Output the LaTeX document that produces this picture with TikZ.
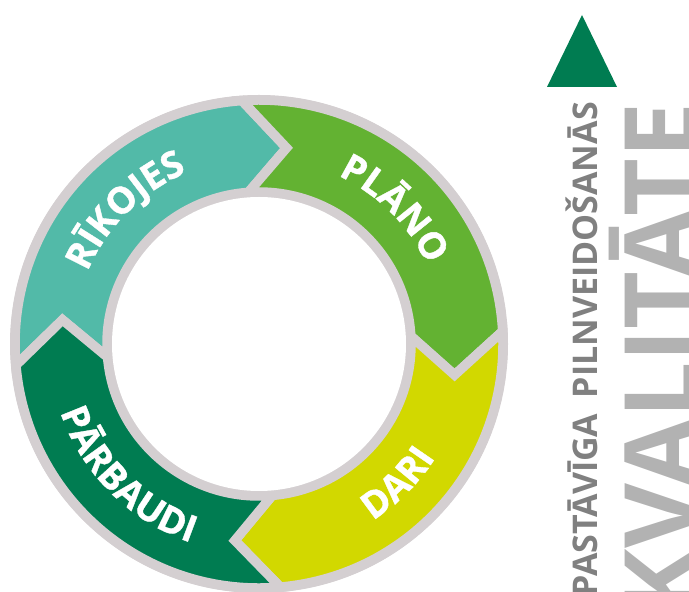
\documentclass[tikz,border=0pt]{standalone}
\usepackage{fontspec}
\setmainfont{Open Sans}
\usetikzlibrary{decorations.text}
\definecolor{ringgray}{RGB}{212,207,209}
\definecolor{cteal}{RGB}{82,186,168}
\definecolor{cgreen}{RGB}{99,178,50}
\definecolor{cyellow}{RGB}{210,216,0}
\definecolor{cdark}{RGB}{0,124,81}
\definecolor{tgray}{RGB}{128,128,128}
\definecolor{tlight}{RGB}{178,178,178}
\def\Ro{244}
\def\Ri{152}
\def\Rm{198}
\def\dd{12}
\newcommand\ringseg[3]{%
  \filldraw[fill=#1, draw=ringgray, line width=9.5pt, line join=miter]
    (#2:\Ro) arc[start angle=#2, end angle=#3, radius=\Ro]
    -- ({#3-\dd}:\Rm) -- (#3:\Ri)
    arc[start angle=#3, end angle=#2, radius=\Ri]
    -- ({#2-\dd}:\Rm) -- cycle;}
\newcommand\lblfont{\fontsize{37}{37}\selectfont\bfseries\addfontfeatures{FakeBold=1}}
\tikzset{
  lbl/.style={decorate, decoration={text along path, text align=center,
     text color=white, text={|\lblfont|#1}}},
}
\begin{document}
\begin{tikzpicture}[x=1pt,y=1pt]
\useasboundingbox (0,0) rectangle (689,592);
\clip (0,0) rectangle (689,592);
\begin{scope}[shift={(259,248)}]
  \fill[ringgray] (0,0) circle[radius=249];
  \begin{scope}
    \clip (0,0) circle[radius=249];
    \ringseg{cteal}{185}{94}
    \ringseg{cgreen}{94}{3}
    \ringseg{cyellow}{3}{-85}
    \ringseg{cdark}{-85}{-175}
  \end{scope}
  \fill[ringgray] (0,0) circle[radius=152];
  \fill[white] (0,0) circle[radius=147];
  \path[lbl=RĪKOJES] (175:186) arc[start angle=175, end angle=95, radius=186];
  \path[lbl=PLĀNO] (85:186) arc[start angle=85, end angle=5, radius=186];
  \path[lbl=DARI] (-85:210) arc[start angle=-85, end angle=-5, radius=210];
  \path[lbl=PĀRBAUDI] (185:210) arc[start angle=185, end angle=265, radius=210];
\end{scope}
\fill[cdark] (547,505) -- (617,505) -- (582,577) -- cycle;
\node[rotate=90, anchor=base east, text=tgray, inner sep=0,
  font=\fontsize{34}{34}\selectfont\bfseries] (sub) at (597,490)
  {PASTĀVĪGA\hspace{0.45em}PILNVEIDOŠANĀS};
\node[rotate=90, anchor=base east, text=tlight, inner sep=0,
  font=\fontsize{100}{100}\selectfont\bfseries] (kval) at (696,490)
  {KVALITĀTE};
\end{tikzpicture}
\end{document}
